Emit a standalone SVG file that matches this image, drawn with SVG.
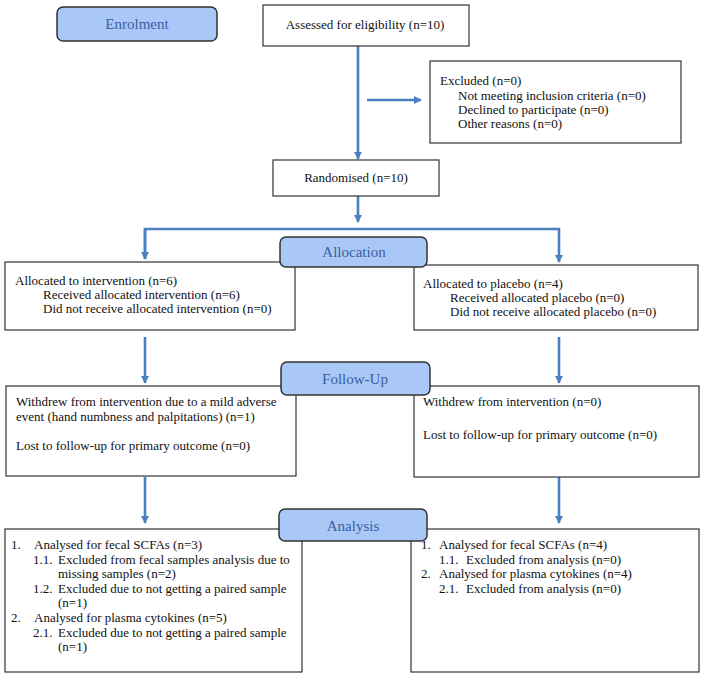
<svg xmlns="http://www.w3.org/2000/svg" width="706" height="678" viewBox="0 0 706 678">
<defs>
<style>
.box{fill:#fff;stroke:#333;stroke-width:1.2}
.lab{fill:#a9c7f7;stroke:#333;stroke-width:1.5}
.t{font-family:"Liberation Serif","Times New Roman",serif;font-size:13px;fill:#111}
.lt{font-family:"Liberation Serif","Times New Roman",serif;font-size:15px;fill:#3b5f9e;text-anchor:middle}
.c{fill:none;stroke:#4a7fc0;stroke-width:2.6}
</style>
<marker id="ah" viewBox="0 0 10 10" refX="9" refY="5" markerWidth="3.2" markerHeight="3.2" orient="auto">
<path d="M0,0L10,5L0,10z" fill="#4a7fc0"/>
</marker>
</defs>
<rect width="706" height="678" fill="#fff"/>
<g id="connectors">
<path class="c" d="M358,46V159" marker-end="url(#ah)"/>
<path class="c" d="M367,100H421" marker-end="url(#ah)"/>
<path class="c" d="M358,196V222" marker-end="url(#ah)"/>
<path class="c" d="M145,259V229H559V262" marker-end="url(#ah)"/>
<path class="c" d="M145,229V259" marker-end="url(#ah)"/>
<path class="c" d="M145,337V383" marker-end="url(#ah)"/>
<path class="c" d="M559,337V383" marker-end="url(#ah)"/>
<path class="c" d="M145,477V523" marker-end="url(#ah)"/>
<path class="c" d="M559,477V523" marker-end="url(#ah)"/>
</g>
<g id="enrolment">
<rect class="lab" x="57" y="7" width="160" height="34" rx="6"/>
<text class="lt" x="137" y="29">Enrolment</text>
</g>
<g id="assessed">
<rect class="box" x="263" y="5" width="206" height="41"/>
<text class="t" x="365" y="29" text-anchor="middle">Assessed for eligibility (n=10)</text>
</g>
<g id="excluded">
<rect class="box" x="430" y="61" width="251" height="82"/>
<text class="t" x="440" y="85">Excluded (n=0)</text>
<text class="t" x="458" y="100">Not meeting inclusion criteria (n=0)</text>
<text class="t" x="458" y="114">Declined to participate (n=0)</text>
<text class="t" x="458" y="128">Other reasons (n=0)</text>
</g>
<g id="randomised">
<rect class="box" x="273" y="160" width="166" height="36"/>
<text class="t" x="356" y="182" text-anchor="middle">Randomised (n=10)</text>
</g>
<g id="alloc-int">
<rect class="box" x="5" y="262" width="290" height="68"/>
<text class="t" x="15" y="285">Allocated to intervention (n=6)</text>
<text class="t" x="43" y="299">Received allocated intervention (n=6)</text>
<text class="t" x="43" y="313">Did not receive allocated intervention (n=0)</text>
</g>
<g id="alloc-plc">
<rect class="box" x="414" y="265" width="284" height="65"/>
<text class="t" x="423" y="288">Allocated to placebo (n=4)</text>
<text class="t" x="450" y="302">Received allocated placebo (n=0)</text>
<text class="t" x="450" y="316">Did not receive allocated placebo (n=0)</text>
</g>
<g id="allocation">
<rect class="lab" x="280" y="237" width="147" height="30" rx="6"/>
<text class="lt" x="354" y="257">Allocation</text>
</g>
<g id="fu-int">
<rect class="box" x="6" y="386" width="290" height="90"/>
<text class="t" x="16" y="406">Withdrew from intervention due to a mild adverse</text>
<text class="t" x="16" y="421">event (hand numbness and palpitations) (n=1)</text>
<text class="t" x="16" y="450">Lost to follow-up for primary outcome (n=0)</text>
</g>
<g id="fu-plc">
<rect class="box" x="414" y="386" width="285" height="91"/>
<text class="t" x="423" y="406">Withdrew from intervention (n=0)</text>
<text class="t" x="423" y="439">Lost to follow-up for primary outcome (n=0)</text>
</g>
<g id="followup">
<rect class="lab" x="281" y="362" width="149" height="33" rx="6"/>
<text class="lt" x="355" y="384">Follow-Up</text>
</g>
<g id="an-int">
<rect class="box" x="5" y="529" width="297" height="143"/>
<text class="t" x="11" y="549">1.</text>
<text class="t" x="34" y="549">Analysed for fecal SCFAs (n=3)</text>
<text class="t" x="33" y="564">1.1.</text>
<text class="t" x="58" y="564">Excluded from fecal samples analysis due to</text>
<text class="t" x="58" y="578">missing samples (n=2)</text>
<text class="t" x="33" y="593">1.2.</text>
<text class="t" x="58" y="593">Excluded due to not getting a paired sample</text>
<text class="t" x="58" y="607">(n=1)</text>
<text class="t" x="11" y="622">2.</text>
<text class="t" x="34" y="622">Analysed for plasma cytokines (n=5)</text>
<text class="t" x="33" y="637">2.1.</text>
<text class="t" x="58" y="637">Excluded due to not getting a paired sample</text>
<text class="t" x="58" y="651">(n=1)</text>
</g>
<g id="an-plc">
<rect class="box" x="411" y="529" width="288" height="143"/>
<text class="t" x="421" y="549">1.</text>
<text class="t" x="439" y="549">Analysed for fecal SCFAs (n=4)</text>
<text class="t" x="439" y="564">1.1.</text>
<text class="t" x="466" y="564">Excluded from analysis (n=0)</text>
<text class="t" x="421" y="578">2.</text>
<text class="t" x="439" y="578">Analysed for plasma cytokines (n=4)</text>
<text class="t" x="439" y="593">2.1.</text>
<text class="t" x="466" y="593">Excluded from analysis (n=0)</text>
</g>
<g id="analysis">
<rect class="lab" x="279" y="509" width="148" height="32" rx="6"/>
<text class="lt" x="353" y="531">Analysis</text>
</g>
</svg>
